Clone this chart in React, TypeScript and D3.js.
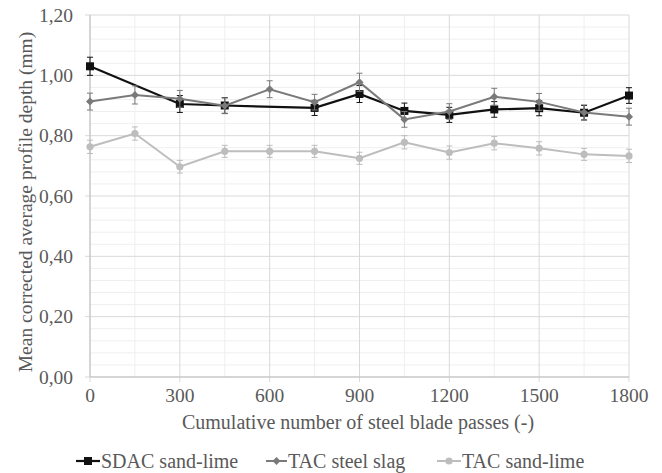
import React from "react";
import * as d3 from "d3";

const passes = [0, 150, 300, 450, 600, 750, 900, 1050, 1200, 1350, 1500, 1650, 1800];
const sdacSandLime: (number | null)[] = [1.03, null, 0.905, 0.9, null, 0.892, 0.938, 0.882, 0.869, 0.887, 0.891, 0.876, 0.933];
const sdacErr = [0.03, 0, 0.028, 0.026, 0, 0.025, 0.028, 0.026, 0.025, 0.026, 0.025, 0.024, 0.026];
const tacSteelSlag = [0.913, 0.935, 0.922, 0.899, 0.954, 0.911, 0.977, 0.854, 0.88, 0.929, 0.912, 0.877, 0.863];
const tacSteelErr = [0.028, 0.03, 0.028, 0.026, 0.028, 0.026, 0.03, 0.026, 0.026, 0.028, 0.028, 0.025, 0.028];
const tacSandLime = [0.763, 0.807, 0.697, 0.748, 0.748, 0.748, 0.725, 0.778, 0.744, 0.775, 0.758, 0.738, 0.733];
const tacSandErr = [0.022, 0.022, 0.021, 0.02, 0.02, 0.02, 0.02, 0.022, 0.022, 0.022, 0.022, 0.02, 0.022];
const xTicks = [0, 300, 600, 900, 1200, 1500, 1800];
const yTicks = [0, 0.2, 0.4, 0.6, 0.8, 1.0, 1.2];
const seriesNames = ["SDAC sand-lime", "TAC steel slag", "TAC sand-lime"];

const W = 662, H = 473;
const left = 90, right = 629, top = 15, bottom = 377;
const FONT = "'Liberation Serif', 'Times New Roman', serif";
const TXT = "#595959";

export default function App() {
  const x = d3.scaleLinear().domain([0, 1800]).range([left, right]);
  const y = d3.scaleLinear().domain([0, 1.2]).range([bottom, top]);

  const series = [
    { name: seriesNames[0], vals: sdacSandLime, err: sdacErr, color: "#111111", marker: "square", width: 2.2 },
    { name: seriesNames[1], vals: tacSteelSlag, err: tacSteelErr, color: "#7a7a7a", marker: "diamond", width: 2 },
    { name: seriesNames[2], vals: tacSandLime, err: tacSandErr, color: "#bdbdbd", marker: "circle", width: 2 },
  ];

  const minorY = d3.range(0, 1.2001, 0.04).filter((v) => Math.abs(Math.round(v / 0.2) * 0.2 - v) > 1e-6);
  const minorX = d3.range(150, 1800, 300);

  const line = d3
    .line<[number, number]>()
    .x((d) => x(d[0]))
    .y((d) => y(d[1]));

  const drawMarker = (m: string, cx: number, cy: number, color: string, key: string) => {
    if (m === "square") return <rect key={key} x={cx - 4} y={cy - 4} width={8} height={8} fill={color} />;
    if (m === "diamond")
      return (
        <path key={key} d={`M${cx},${cy - 4}L${cx + 4},${cy}L${cx},${cy + 4}L${cx - 4},${cy}Z`} fill={color} />
      );
    return <circle key={key} cx={cx} cy={cy} r={3.6} fill={color} />;
  };

  const legendItems = [
    { x0: 76, x1: 100, tx: 101 },
    { x0: 266, x1: 287, tx: 288 },
    { x0: 437, x1: 461, tx: 462 },
  ];

  return (
    <svg width={W} height={H} style={{ position: "absolute", left: 0, top: 0, background: "#fff" }}>
      <rect width={W} height={H} fill="#fff" />
      {minorY.map((v, i) => (
        <line key={"my" + i} x1={left} x2={right} y1={y(v)} y2={y(v)} stroke="#efefef" strokeWidth={1} />
      ))}
      {minorX.map((v, i) => (
        <line key={"mx" + i} x1={x(v)} x2={x(v)} y1={top} y2={bottom} stroke="#efefef" strokeWidth={1} />
      ))}
      {yTicks.map((v, i) => (
        <line key={"gy" + i} x1={left - 5} x2={right} y1={y(v)} y2={y(v)} stroke="#d9d9d9" strokeWidth={1} />
      ))}
      {xTicks.map((v, i) => (
        <line key={"gx" + i} x1={x(v)} x2={x(v)} y1={top} y2={bottom + 5} stroke="#d9d9d9" strokeWidth={1} />
      ))}
      <line x1={left} x2={left} y1={top} y2={bottom} stroke="#bfbfbf" strokeWidth={1} />
      <line x1={left} x2={right} y1={bottom} y2={bottom} stroke="#bfbfbf" strokeWidth={1} />

      {yTicks.map((v, i) => (
        <text key={"ty" + i} x={73} y={y(v)} dy="0.35em" textAnchor="end" fontFamily={FONT} fontSize={19.5} fill={TXT}>
          {d3.format(".2f")(v).replace(".", ",")}
        </text>
      ))}
      {xTicks.map((v, i) => (
        <text key={"tx" + i} x={x(v)} y={395} dy="0.35em" textAnchor="middle" fontFamily={FONT} fontSize={19.5} fill={TXT}>
          {v}
        </text>
      ))}
      <text x={358} y={422} dy="0.35em" textAnchor="middle" fontFamily={FONT} fontSize={20} fill={TXT}>
        Cumulative number of steel blade passes (-)
      </text>
      <text
        transform={`translate(25,${(top + bottom) / 2 + 6}) rotate(-90)`}
        dy="0.35em"
        textAnchor="middle"
        fontFamily={FONT}
        fontSize={19.5}
        fill={TXT}
      >
        Mean corrected average profile depth (mm)
      </text>

      {series.map((s, si) => {
        const pts: [number, number, number][] = [];
        passes.forEach((p, i) => {
          const v = s.vals[i];
          if (v != null) pts.push([p, v as number, s.err[i]]);
        });
        return (
          <g key={"s" + si}>
            <path d={line(pts.map((d) => [d[0], d[1]]))!} fill="none" stroke={s.color} strokeWidth={s.width} />
            {pts.map((d, i) => (
              <g key={"e" + i} stroke={s.color} strokeWidth={1}>
                <line x1={x(d[0])} x2={x(d[0])} y1={y(d[1] - d[2])} y2={y(d[1] + d[2])} />
                <line x1={x(d[0]) - 3} x2={x(d[0]) + 3} y1={y(d[1] - d[2])} y2={y(d[1] - d[2])} />
                <line x1={x(d[0]) - 3} x2={x(d[0]) + 3} y1={y(d[1] + d[2])} y2={y(d[1] + d[2])} />
              </g>
            ))}
            {pts.map((d, i) => drawMarker(s.marker, x(d[0]), y(d[1]), s.color, "m" + i))}
          </g>
        );
      })}

      {series.map((s, si) => {
        const li = legendItems[si];
        const cy = 461;
        return (
          <g key={"l" + si}>
            <line x1={li.x0} x2={li.x1} y1={cy} y2={cy} stroke={s.color} strokeWidth={s.width} />
            {drawMarker(s.marker, (li.x0 + li.x1) / 2, cy, s.color, "lm" + si)}
            <text x={li.tx} y={cy} dy="0.35em" fontFamily={FONT} fontSize={20} fill={TXT}>
              {s.name}
            </text>
          </g>
        );
      })}
    </svg>
  );
}
